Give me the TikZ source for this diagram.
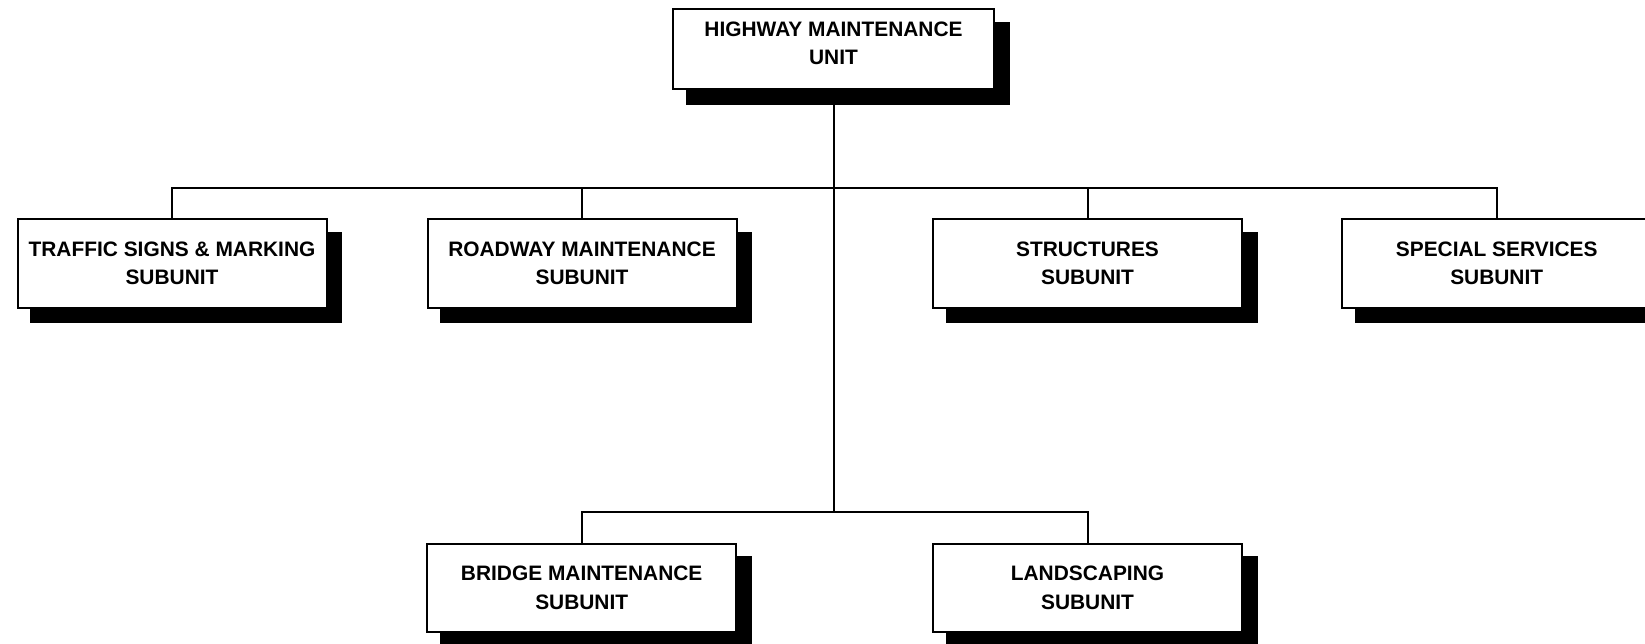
\documentclass[tikz,border=0pt]{standalone}
\usepackage{fontspec}
\setmainfont{Liberation Sans}
\usetikzlibrary{shadows}
\begin{document}
\begin{tikzpicture}[x=1pt,y=-1pt,
  unitbox/.style={draw=black, line width=2pt, fill=white, align=center,
    font=\bfseries\fontsize{20.9}{28.7}\selectfont, inner sep=0pt,
    drop shadow={shadow xshift=14pt, shadow yshift=-14pt, opacity=1, fill=black, draw=black, line width=3pt}},
  subbox/.style={unitbox, minimum width=309pt, minimum height=88.5pt},
  conn/.style={draw=black, line width=2pt}]
\useasboundingbox (0,0) rectangle (1645,644);
\node[unitbox, minimum width=321pt, minimum height=80pt, text depth=12pt] (top) at (833.5,49.2) {HIGHWAY MAINTENANCE\\UNIT};
\node[subbox] (tsm) at (172,263.3) {TRAFFIC SIGNS \& MARKING\\SUBUNIT};
\node[subbox] (road) at (582,263.3) {ROADWAY MAINTENANCE\\SUBUNIT};
\node[subbox] (struct) at (1087.5,263.3) {STRUCTURES\\SUBUNIT};
\node[subbox] (spec) at (1496.7,263.3) {SPECIAL SERVICES\\SUBUNIT};
\node[subbox] (bridge) at (581.7,588) {BRIDGE MAINTENANCE\\SUBUNIT};
\node[subbox] (land) at (1087.5,588) {LANDSCAPING\\SUBUNIT};
\coordinate (b1) at (833.5,188.3);
\coordinate (b2) at (833.5,511.7);
\draw[conn] (top.south) -- (b2);
\draw[conn] (tsm.north) -- (tsm.north |- b1) -- (spec.north |- b1) -- (spec.north);
\draw[conn] (road.north) -- (road.north |- b1);
\draw[conn] (struct.north) -- (struct.north |- b1);
\draw[conn] (bridge.north) -- (bridge.north |- b2) -- (land.north |- b2) -- (land.north);
\end{tikzpicture}
\end{document}
